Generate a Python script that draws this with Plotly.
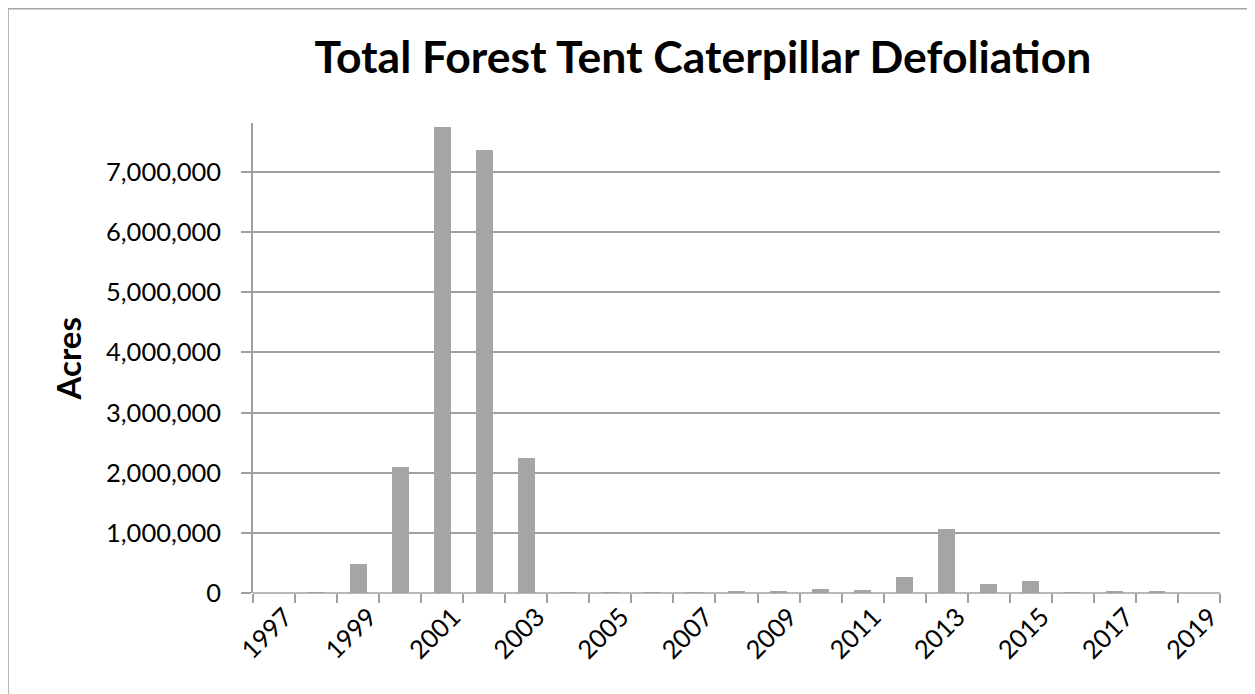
import plotly.graph_objects as go

years = list(range(1997, 2020))
acres = [0, 8000, 478000, 2087000, 7754000, 7364000, 2246000, 8000, 3000, 2000,
         9000, 18000, 25000, 60000, 50000, 266000, 1065000, 150000, 195000, 8000,
         35000, 22000, 0]
label_years = list(range(1997, 2020, 2))
label_text = [str(y) for y in label_years]
y_ticks = [0, 1000000, 2000000, 3000000, 4000000, 5000000, 6000000, 7000000]
y_text = ["0", "1,000,000", "2,000,000", "3,000,000", "4,000,000", "5,000,000",
          "6,000,000", "7,000,000"]

OFF = 8  # page body margin
W, H = 1255 - OFF, 694 - OFF
L, R, T, B = 252.7 - OFF, 1219.7 - OFF, 123.0 - OFF, 592.7 - OFF
pw, ph = R - L, B - T

def px(x):
    return (x - OFF - L) / pw

def py(y):
    return (B - (y - OFF)) / ph

font = "Lato, Carlito, Calibri, sans-serif"
grid = "#a0a0a0"

fig = go.Figure()
fig.add_trace(go.Bar(x=years, y=acres, width=0.4, marker=dict(color="#a5a5a5", line=dict(width=0))))

fig.update_layout(
    width=W, height=H,
    margin=dict(l=L, r=W - R, t=T, b=H - B, autoexpand=False),
    paper_bgcolor="white", plot_bgcolor="white",
    showlegend=False,
    bargap=0,
    title=dict(text="<b>Total Forest Tent Caterpillar Defoliation</b>",
               font=dict(family=font, size=44.5, color="black"),
               xref="container", yref="container",
               x=(703 - OFF) / W, y=(H - (57 - OFF)) / H, xanchor="center", yanchor="middle"),
    xaxis=dict(range=[1996.5, 2019.5], tickvals=label_years, ticktext=label_text,
               tickangle=-45, ticks="", showgrid=False, zeroline=False,
               showline=False, ticklabelshift=11, ticklabelstandoff=3,
               tickfont=dict(family=font, size=25.5, color="black"),
               minor=dict(ticks="outside", tick0=1996.5, dtick=1, ticklen=9,
                          tickcolor=grid, tickwidth=1.5, showgrid=False)),
    yaxis=dict(range=[0, 7.815e6], tickvals=y_ticks, ticktext=y_text,
               showgrid=True, gridcolor=grid, gridwidth=1.5,
               ticks="outside", ticklen=10, tickcolor=grid, tickwidth=1.5,
               showline=True, linecolor=grid, linewidth=1.5,
               zeroline=False, ticklabelstandoff=15,
               tickfont=dict(family=font, size=25.5, color="black")),
    annotations=[dict(text="<b>Acres</b>", textangle=-90, xref="paper", yref="paper",
                      x=px(68), y=py(359), xanchor="center", yanchor="middle",
                      showarrow=False, font=dict(family=font, size=33, color="black"))],
    shapes=[
        dict(type="line", xref="paper", yref="paper", x0=0, x1=1, y0=0, y1=0,
             line=dict(color=grid, width=1.5), layer="above"),
        dict(type="line", xref="paper", yref="paper", x0=px(7.5), x1=px(7.5), y0=py(8.5), y1=py(700),
             line=dict(color="#a6a6a6", width=2)),
        dict(type="line", xref="paper", yref="paper", x0=px(7.5), x1=px(1260), y0=py(8.5), y1=py(8.5),
             line=dict(color="#a6a6a6", width=2)),
    ],
)

fig.write_html("out.html")
